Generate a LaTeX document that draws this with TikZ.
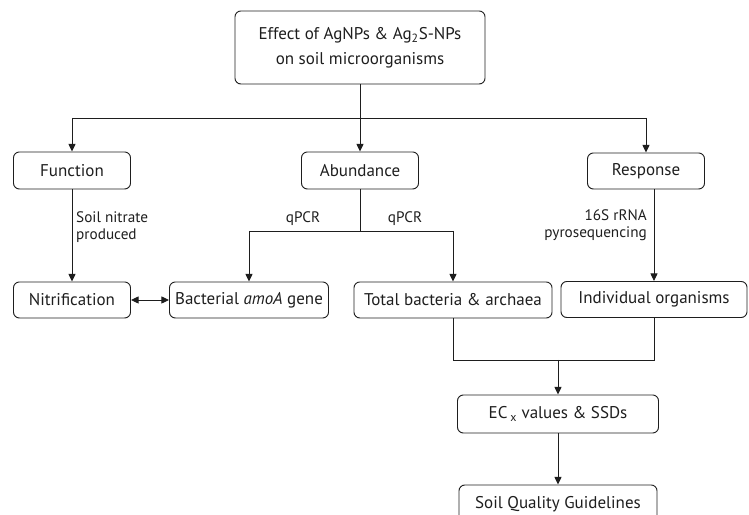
\documentclass[tikz,border=0pt]{standalone}
\usepackage{fontspec}
\setmainfont{PT Sans}
\usetikzlibrary{arrows.meta}
\definecolor{flowink}{RGB}{30,30,30}

\begin{document}
\begin{tikzpicture}[x=0.03cm,y=-0.03cm,
  box/.style={draw=flowink,line width=0.8pt,rounded corners=5pt,inner sep=0pt,
    text=flowink,align=center,font=\fontsize{14.5}{21}\selectfont},
  link/.style={draw=flowink,line width=0.8pt},
  arr/.style={link,-{Triangle[length=6.5pt,width=6pt]}},
  note/.style={inner sep=0pt,text=flowink,font=\fontsize{13}{14.5}\selectfont}]
\useasboundingbox (0,0) rectangle (749,515);
% title box
\node[box,minimum width=7.5cm,minimum height=2.19cm] (effect) at (360,47.5)
  {Effect of AgNPs \& Ag\textsubscript{2}S-NPs\\on soil microorganisms};
% three branches
\node[box,minimum width=3.51cm,minimum height=1.11cm] (func) at (72,170.5) {Function};
\node[box,minimum width=3.51cm,minimum height=1.11cm] (abund) at (360,170.5) {Abundance};
\node[box,minimum width=3.51cm,minimum height=1.08cm] (resp) at (646,171) {Response};
% what is measured
\node[box,minimum width=3.51cm,minimum height=1.08cm] (nitr) at (72,300) {Nitrification};
\node[box,minimum width=4.77cm,minimum height=1.08cm] (amoa) at (249,300) {Bacterial \textit{amoA} gene};
\node[box,minimum width=5.94cm,minimum height=1.08cm] (total) at (453,300) {Total bacteria \& archaea};
\node[box,minimum width=5.58cm,minimum height=1.08cm] (indiv) at (654,299.5) {Individual organisms};
% outcome
\node[box,minimum width=6.03cm,minimum height=1.14cm] (ecx) at (558,414) {EC\,\textsubscript{x} values \& SSDs};
\node[box,minimum width=5.94cm,minimum height=1.14cm] (sqg) at (558,504) {Soil Quality Guidelines};

% top split
\coordinate (split) at (360,118);
\draw[link] (effect) -- (split);
\draw[link] (split -| func) -- (split -| resp);
\draw[arr] (split -| func) -- (func);
\draw[arr] (split) -- (abund);
\draw[arr] (split -| resp) -- (resp);

% function
\draw[arr] (func) -- (nitr);
\node[note,anchor=west,align=left] (nitrate) at (76,227.5) {Soil nitrate\\produced};
\draw[arr,{Triangle[length=6.5pt,width=6pt]}-{Triangle[length=6.5pt,width=6pt]}] (nitr) -- (amoa);

% abundance
\coordinate (qsplit) at (360,231);
\draw[link] (abund) -- (qsplit);
\draw[link] (qsplit -| amoa) -- (qsplit -| total);
\draw[arr] (qsplit -| amoa) -- (amoa);
\draw[arr] (qsplit -| total) -- (total);
\node[note] (qpcrl) at (303,219) {qPCR};
\node[note] (qpcrr) at (405,219) {qPCR};

% response
\draw[arr] (resp.south -| indiv) -- (indiv);
\node[note,anchor=east,align=right] (pyro) at (647,225.5) {16S rRNA\\pyrosequencing};

% towards guidelines
\coordinate (join) at (558,360);
\draw[link] (total) -- (total |- join) -- (indiv |- join) -- (indiv);
\draw[arr] (join) -- (ecx);
\draw[arr] (ecx) -- (sqg);
\end{tikzpicture}
\end{document}
